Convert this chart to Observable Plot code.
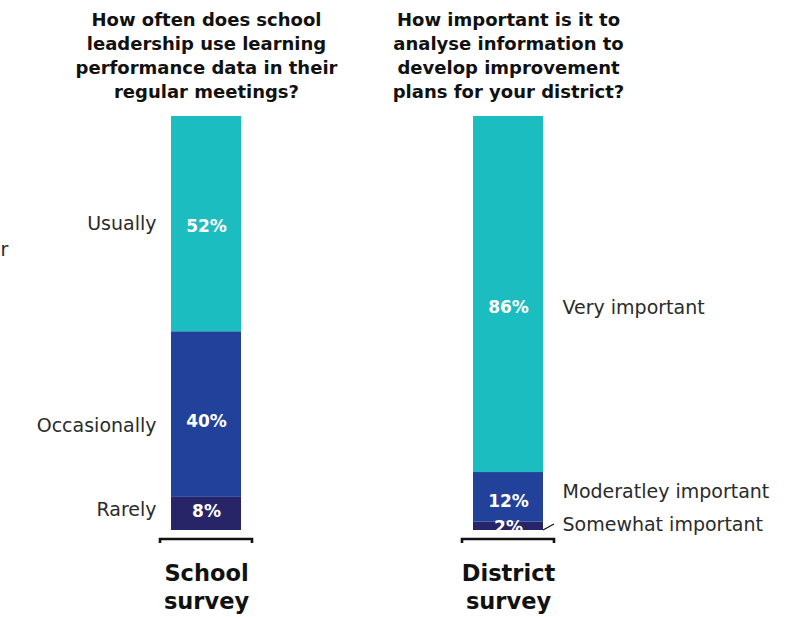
<!DOCTYPE html>
<html>
<head>
<meta charset="utf-8">
<script src="https://cdn.jsdelivr.net/npm/d3@7"></script>
<script src="https://cdn.jsdelivr.net/npm/@observablehq/plot@0.6"></script>
<style>
  html, body { margin: 0; padding: 0; background: #ffffff; overflow: hidden; }
  svg { display: block; }
</style>
</head>
<body>
<div id="chart"></div>
<script>
// ---- data ----
const surveys = ["School survey", "District survey"];
const questions = [
  "How often does school\nleadership use learning\nperformance data in their\nregular meetings?",
  "How important is it to\nanalyse information to\ndevelop improvement\nplans for your district?"
];
const schoolCategories = ["Usually", "Occasionally", "Rarely"];
const schoolValues = [52, 40, 8];
const districtCategories = ["Very important", "Moderatley important", "Somewhat important"];
const districtValues = [86, 12, 2];
const levels = ["top", "middle", "bottom"];
const fragmentText = ["r"];

// ---- table built from the arrays (bottom segment first for stacking) ----
const rows = [];
[[surveys[0], schoolCategories, schoolValues], [surveys[1], districtCategories, districtValues]]
  .forEach(([s, cats, vals]) => {
    for (let i = cats.length - 1; i >= 0; i--) {
      rows.push({survey: s, category: cats[i], value: vals[i], level: levels[i]});
    }
  });

// ---- layout tweaks (label nudges, px) ----
const pctDy = {"Usually": 2, "Occasionally": 7, "Rarely": -2, "Very important": 13, "Moderatley important": 4, "Somewhat important": 1};
const catDy = {"Usually": 0, "Occasionally": 11, "Rarely": -4, "Very important": 13, "Moderatley important": -5, "Somewhat important": -1};

const FONT = "'DejaVu Sans', sans-serif";

const pctMarks = rows.map(r =>
  Plot.text(rows, Plot.filter(d => d === r, Plot.stackY({
    x: "survey", y: "value",
    text: d => d.value + "%",
    fill: "white", fontWeight: "bold", fontSize: 17,
    dy: pctDy[r.category] || 0,
    clip: true
  })))
);

const catMarks = rows.map(r => {
  const left = r.survey === surveys[0];
  return Plot.text(rows, Plot.filter(d => d === r, Plot.stackY({
    x: "survey", y: "value",
    text: "category",
    fill: "#2b2b2b", fontSize: 19,
    textAnchor: left ? "end" : "start",
    dx: left ? -50 : 54,
    dy: catDy[r.category] || 0
  })));
});

// brackets under each bar and leader line for the smallest segment, using the scales
function decorations(index, scales) {
  const bw = scales.x.bandwidth ? scales.x.bandwidth() : 70;
  const g = d3.create("svg:g").attr("fill", "none").attr("stroke", "#111");
  const y0 = scales.y(0);
  for (const s of surveys) {
    const c = scales.x(s) + bw / 2;
    g.append("path")
      .attr("stroke-width", 2.6)
      .attr("d", `M${c - 46},${y0 + 13}V${y0 + 9}H${c + 46}V${y0 + 13}`);
  }
  const xr = scales.x(surveys[1]) + bw;
  g.append("path")
    .attr("stroke-width", 1.2)
    .attr("d", `M${xr},${y0}L${xr + 11},${y0 - 6}`);
  return g.node();
}

const chart = Plot.plot({
  width: 798,
  height: 617,
  marginTop: 116,
  marginBottom: 87,
  marginLeft: 170.5,
  marginRight: 255,
  style: {fontFamily: FONT, fontSize: "19px", background: "white", overflow: "visible"},
  x: {domain: surveys, axis: null, paddingInner: 0.7686, paddingOuter: 0},
  y: {domain: [0, 100], axis: null},
  color: {domain: levels, range: ["#1cbdc0", "#21419a", "#272468"]},
  marks: [
    Plot.barY(rows, Plot.stackY({x: "survey", y: "value", fill: "level"})),
    ...pctMarks,
    ...catMarks,
    decorations,
    // questions above bars
    Plot.text(surveys, {
      x: d => d, text: (d, i) => questions[i],
      frameAnchor: "top", lineAnchor: "top", dy: -108,
      lineHeight: 1.333, fontSize: 18, fontWeight: "bold", fill: "#111"
    }),
    // survey names below bars
    Plot.text(surveys, {
      x: d => d, text: d => d.replace(" ", "\n"),
      frameAnchor: "bottom", lineAnchor: "top", dy: 30,
      lineHeight: 1.27, fontSize: 22.5, fontWeight: "bold", fill: "#111"
    }),
    // cropped fragment of neighbouring text at left edge
    Plot.text(fragmentText, {
      text: d => d, frameAnchor: "top-left", textAnchor: "start",
      dx: -170.5, dy: 126, fontSize: 19, fill: "#2b2b2b"
    })
  ]
});

document.getElementById("chart").appendChild(chart);
</script>
</body>
</html>
